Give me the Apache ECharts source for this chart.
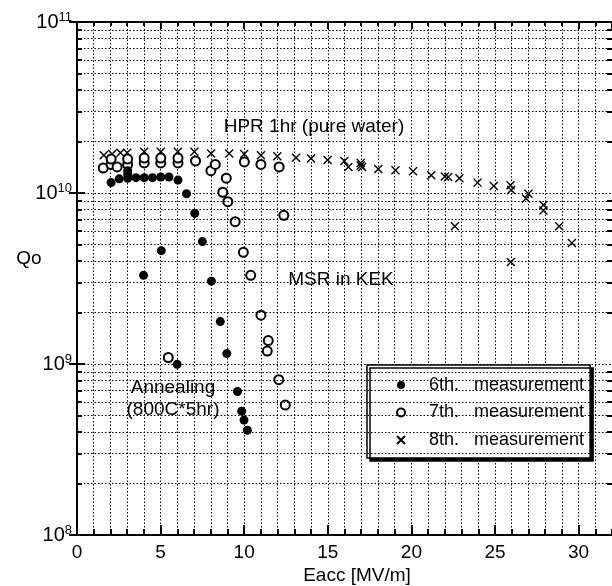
<!DOCTYPE html>
<html>
<head>
<meta charset="utf-8">
<script src="https://cdn.jsdelivr.net/npm/echarts@6/dist/echarts.min.js"></script>
<style>
  html, body { margin: 0; padding: 0; background: #fff; }
  #chart { width: 612px; height: 586px; }
</style>
</head>
<body>
<div id="chart"></div>
<script>
// Eacc [MV/m], Qo
const sixth = [
  [2.04, 1.15e10], [2.53, 1.21e10], [3.03, 1.22e10], [3.03, 1.29e10], [3.03, 1.35e10],
  [3.53, 1.23e10], [4.02, 1.23e10], [4.51, 1.23e10], [5.01, 1.24e10], [5.5, 1.24e10],
  [6.04, 1.19e10], [6.55, 9.9e9], [7.04, 7.6e9], [7.5, 5.2e9], [5.04, 4.6e9],
  [3.98, 3.3e9], [8.04, 3.05e9], [8.57, 1.77e9], [8.96, 1.15e9], [5.99, 9.95e8],
  [9.6, 6.9e8], [9.85, 5.3e8], [9.99, 4.7e8], [10.19, 4.1e8]
]
const seventh = [
  [1.57, 1.40e10], [2.04, 1.47e10], [2.04, 1.58e10], [2.4, 1.42e10],
  [3.03, 1.47e10], [3.03, 1.58e10], [4.02, 1.50e10], [4.02, 1.60e10],
  [5.01, 1.50e10], [5.01, 1.60e10], [6.04, 1.50e10], [6.04, 1.60e10],
  [7.09, 1.54e10], [8.01, 1.35e10], [8.27, 1.47e10], [8.93, 1.22e10],
  [8.72, 1.01e10], [9.02, 8.9e9], [9.46, 6.8e9], [9.95, 4.5e9],
  [10.39, 3.3e9], [10.01, 1.52e10], [11.0, 1.47e10], [12.09, 1.42e10],
  [12.37, 7.4e9], [11.0, 1.93e9], [11.44, 1.37e9], [11.38, 1.19e9],
  [12.07, 8.1e8], [12.46, 5.75e8], [5.46, 1.09e9]
]
const eighth = [
  [1.6, 1.66e10], [2.1, 1.69e10], [2.6, 1.72e10], [3.0, 1.72e10], [4.02, 1.74e10],
  [5.01, 1.74e10], [6.03, 1.74e10], [7.02, 1.74e10], [8.02, 1.70e10], [9.1, 1.70e10],
  [10.0, 1.69e10], [11.0, 1.66e10], [11.98, 1.64e10], [13.1, 1.61e10], [14.0, 1.59e10],
  [14.99, 1.56e10], [15.99, 1.54e10], [16.23, 1.42e10], [16.97, 1.50e10], [16.97, 1.45e10],
  [17.05, 1.42e10], [18.02, 1.38e10], [19.05, 1.36e10], [20.1, 1.34e10], [21.19, 1.27e10],
  [22.0, 1.25e10], [22.2, 1.24e10], [22.87, 1.22e10], [23.96, 1.15e10], [24.93, 1.10e10],
  [25.93, 1.11e10], [25.97, 1.04e10], [27.0, 9.9e9], [26.86, 9.3e9], [27.9, 8.5e9],
  [27.9, 7.9e9], [28.84, 6.4e9], [29.6, 5.1e9], [22.6, 6.4e9], [25.95, 3.95e9]
]

const seriesNames = ['6th.   measurement', '7th.   measurement', '8th.   measurement']
const xTickLabels = [0, 5, 10, 15, 20, 25, 30]
const decades = [8, 9, 10]
const minorSteps = [2, 3, 4, 5, 6, 7, 8, 9]

const font = '"Liberation Sans", Arial, Helvetica, sans-serif'
const ink = '#000'
const dots = [1.5, 2]
const minorQ = decades.flatMap((d) => minorSteps.map((k) => k * Math.pow(10, d)))
const xMax = 32
const tickLen = 0.3

// dotted minor grid + short ticks on both y sides (log axis has no 2..9 minor ticks)
const gridLines = []
minorQ.forEach((q) => {
  gridLines.push([{ coord: [0, q] }, { coord: [xMax, q], lineStyle: { type: dots, width: 1 } }])
  gridLines.push([{ coord: [0, q] }, { coord: [tickLen, q], lineStyle: { type: 'solid', width: 2 } }])
  gridLines.push([{ coord: [xMax - tickLen, q] }, { coord: [xMax, q], lineStyle: { type: 'solid', width: 2 } }])
})

const chart = echarts.init(document.getElementById('chart'))

const axisLine = { show: true, lineStyle: { color: ink, width: 2 } }

chart.setOption({
  animation: false,
  backgroundColor: '#fff',
  textStyle: { fontFamily: font, color: ink },
  grid: { left: 77, top: 22, width: 539, height: 513 },
  xAxis: [
    {
      type: 'value', position: 'bottom', min: 0, max: xMax, interval: 5,
      axisLine,
      axisTick: { inside: true, length: 10, lineStyle: { color: ink, width: 2 } },
      axisLabel: {
        margin: 8, fontSize: 19, color: ink, fontFamily: font, showMaxLabel: false,
        formatter: (v) => (xTickLabels.includes(v) ? String(v) : '')
      },
      splitLine: { show: false }
    },
    {
      type: 'value', position: 'bottom', min: 0, max: xMax, interval: 1,
      axisLine: { show: false },
      axisTick: { inside: true, length: 6, lineStyle: { color: ink, width: 2 } },
      axisLabel: { show: false },
      splitLine: { show: true, lineStyle: { color: ink, width: 1, type: dots } }
    },
    {
      type: 'value', position: 'top', min: 0, max: xMax, interval: 1,
      axisLine,
      axisTick: { inside: true, length: 4, lineStyle: { color: ink, width: 2 } },
      axisLabel: { show: false },
      splitLine: { show: false }
    },
    {
      type: 'value', position: 'top', min: 0, max: xMax, interval: 5,
      axisLine: { show: false },
      axisTick: { inside: true, length: 7, lineStyle: { color: ink, width: 2 } },
      axisLabel: { show: false },
      splitLine: { show: false }
    }
  ],
  yAxis: [
    {
      type: 'log', logBase: 10, min: 1e8, max: 1e11, position: 'left',
      axisLine,
      axisTick: { inside: true, length: 8, lineStyle: { color: ink, width: 2 } },
      axisLabel: {
        margin: 5,
        formatter: (v) => '{b|10}{s|' + Math.round(Math.log10(v)) + '}',
        rich: {
          b: { fontSize: 20, lineHeight: 22, verticalAlign: 'middle', color: ink, fontFamily: font },
          s: { fontSize: 13, lineHeight: 22, verticalAlign: 'top', color: ink, fontFamily: font }
        }
      },
      splitLine: { show: true, lineStyle: { color: ink, width: 1, type: dots } }
    },
    {
      type: 'log', logBase: 10, min: 1e8, max: 1e11, position: 'right',
      axisLine,
      axisTick: { inside: true, length: 8, lineStyle: { color: ink, width: 2 } },
      axisLabel: { show: false },
      splitLine: { show: false }
    }
  ],
  legend: {
    data: seriesNames,
    orient: 'vertical',
    left: 367,
    top: 365,
    padding: [11, 6, 9, 29],
    itemWidth: 8,
    itemHeight: 8,
    itemGap: 9.5,
    selectedMode: false,
    backgroundColor: '#fff',
    borderColor: ink,
    borderWidth: 1.5,
    borderRadius: 0,
    shadowColor: ink,
    shadowBlur: 0,
    shadowOffsetX: 3,
    shadowOffsetY: 3,
    textStyle: { fontSize: 18, lineHeight: 18, color: ink, fontFamily: font, padding: [0, 0, 0, 19] }
  },
  graphic: [
    { type: 'text', x: 314, y: 127, style: { text: 'HPR 1hr (pure water)', font: '19px ' + font, fill: ink, align: 'center', verticalAlign: 'middle' } },
    { type: 'text', x: 341, y: 280, style: { text: 'MSR in KEK', font: '19px ' + font, fill: ink, align: 'center', verticalAlign: 'middle' } },
    { type: 'text', x: 173, y: 388, style: { text: 'Annealing', font: '19px ' + font, fill: ink, align: 'center', verticalAlign: 'middle' } },
    { type: 'text', x: 173, y: 410, style: { text: '(800C*5hr)', font: '19px ' + font, fill: ink, align: 'center', verticalAlign: 'middle' } },
    { type: 'text', x: 29, y: 259, style: { text: 'Qo', font: '19px ' + font, fill: ink, align: 'center', verticalAlign: 'middle' } },
    { type: 'text', x: 357, y: 576, style: { text: 'Eacc [MV/m]', font: '19px ' + font, fill: ink, align: 'center', verticalAlign: 'middle' } }
  ],
  series: [
    {
      name: 'grid',
      type: 'scatter',
      data: [],
      silent: true,
      markLine: {
        silent: true,
        animation: false,
        symbol: ['none', 'none'],
        label: { show: false },
        lineStyle: { color: ink },
        emphasis: { disabled: true },
        data: gridLines
      }
    },
    {
      name: seriesNames[0],
      type: 'scatter',
      data: sixth,
      symbol: 'circle',
      symbolSize: 9,
      itemStyle: { color: ink, opacity: 1 },
      z: 5
    },
    {
      name: seriesNames[1],
      type: 'scatter',
      data: seventh,
      symbol: 'emptyCircle',
      symbolSize: 9,
      itemStyle: { color: ink, borderColor: ink, borderWidth: 1.2, opacity: 1 },
      z: 4
    },
    {
      name: seriesNames[2],
      type: 'scatter',
      data: eighth,
      symbol: 'path://M0,0L10,10M10,0L0,10',
      symbolKeepAspect: true,
      symbolSize: 8,
      itemStyle: { color: ink, borderColor: ink, borderWidth: 1.4, opacity: 1 },
      z: 3
    }
  ]
})
</script>
</body>
</html>
